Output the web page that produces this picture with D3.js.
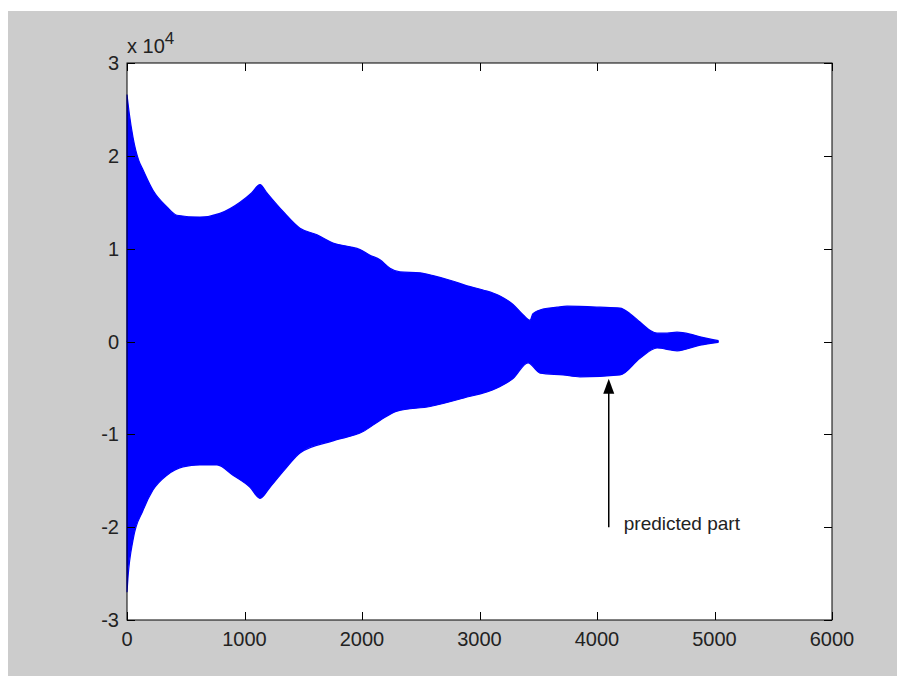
<!DOCTYPE html>
<html>
<head>
<meta charset="utf-8">
<script src="https://cdn.jsdelivr.net/npm/d3@7"></script>
<style>
  html, body { margin: 0; padding: 0; background: #ffffff; }
  svg text { font-family: "Liberation Sans", Arial, Helvetica, sans-serif; }
</style>
</head>
<body>
<svg id="chart" width="905" height="686"></svg>
<script>
// Upper envelope of the signal (sample index, value in units of 1e4)
const upperX = [0, 20, 51, 100, 136, 221, 340, 425, 621, 791, 962, 1060, 1132, 1191, 1328, 1472, 1617, 1753, 1898, 1983, 2068, 2153, 2238, 2323, 2494, 2604, 2749, 2894, 3030, 3174, 3285, 3370, 3430, 3455, 3540, 3660, 3745, 4026, 4196, 4281, 4366, 4451, 4511, 4596, 4681, 4791, 4877, 4987, 5030];
const upperY = [2.66, 2.45, 2.2, 1.95, 1.85, 1.63, 1.45, 1.36, 1.34, 1.38, 1.50, 1.60, 1.69, 1.60, 1.40, 1.22, 1.15, 1.06, 1.02, 0.99, 0.93, 0.88, 0.79, 0.75, 0.74, 0.71, 0.66, 0.60, 0.555, 0.49, 0.40, 0.29, 0.23, 0.30, 0.35, 0.37, 0.38, 0.37, 0.36, 0.30, 0.21, 0.12, 0.09, 0.09, 0.10, 0.08, 0.05, 0.02, 0.01];
// Lower envelope
const lowerX = [0, 8, 51, 136, 221, 340, 476, 621, 766, 902, 1047, 1132, 1217, 1362, 1472, 1753, 2009, 2153, 2298, 2579, 2860, 3149, 3285, 3413, 3515, 3711, 3855, 4196, 4366, 4511, 4681, 4877, 5030];
const lowerY = [-2.70, -2.55, -2.14, -1.82, -1.60, -1.44, -1.35, -1.33, -1.33, -1.44, -1.57, -1.69, -1.57, -1.35, -1.20, -1.07, -0.97, -0.85, -0.75, -0.70, -0.61, -0.50, -0.40, -0.23, -0.34, -0.36, -0.38, -0.36, -0.18, -0.07, -0.10, -0.04, -0.01];

const xTicks = [0, 1000, 2000, 3000, 4000, 5000, 6000];
const yTicks = [-3, -2, -1, 0, 1, 2, 3];
const annotationText = "predicted part";
const arrowX = 4100;      // data x of arrow
const arrowTip = -0.4;    // data y of arrow tip
const arrowTail = -2.0;   // data y of arrow tail

const svg = d3.select("#chart");
const W = 905, H = 686;
const L = 127, R = 832, T = 63, B = 620;

// figure background
svg.append("rect").attr("x", 0).attr("y", 0).attr("width", W).attr("height", H).attr("fill", "#ffffff");
svg.append("rect").attr("x", 8).attr("y", 11).attr("width", 889).attr("height", 665).attr("fill", "#cccccc");
svg.append("rect").attr("x", L).attr("y", T).attr("width", R - L).attr("height", B - T).attr("fill", "#ffffff");

const x = d3.scaleLinear().domain([0, 6000]).range([L, R]);
const y = d3.scaleLinear().domain([-3, 3]).range([B, T]);

// upper and lower envelope traced as one closed outline
const outline = upperX.map((v, i) => [v, upperY[i]]);
const lowerPts = lowerX.map((v, i) => [v, lowerY[i]]).reverse();

const lineU = d3.line().x(d => x(d[0])).y(d => y(d[1])).curve(d3.curveMonotoneX);
const lineLo = d3.line().x(d => x(d[0])).y(d => y(d[1])).curve(d3.curveMonotoneX);
const pathU = lineU(outline);
const pathL = lineLo(lowerX.map((v, i) => [v, lowerY[i]]));
// Build area with d3.area over merged grid for clean fill
const allX = Array.from(new Set(upperX.concat(lowerX))).sort((a, b) => a - b);
const up = d3.scaleLinear().domain(upperX).range(upperY);
const lo = d3.scaleLinear().domain(lowerX).range(lowerY);
const env = allX.map(v => ({ x: v, u: up(v), l: lo(v) }));

const areaU = d3.area().x(d => x(d[0])).y0(y(0)).y1(d => y(d[1])).curve(d3.curveMonotoneX);
const areaL = d3.area().x(d => x(d[0])).y0(y(0)).y1(d => y(d[1])).curve(d3.curveMonotoneX);

svg.append("path").datum(outline)
  .attr("d", areaU)
  .attr("fill", "#0000ff").attr("stroke", "#0000ff").attr("stroke-width", 1.2);
svg.append("path").datum(lowerX.map((v, i) => [v, lowerY[i]]))
  .attr("d", areaL)
  .attr("fill", "#0000ff").attr("stroke", "#0000ff").attr("stroke-width", 1.2);

// axes box
const axisColor = "#000000";
const g = svg.append("g");
g.append("rect").attr("x", L).attr("y", T).attr("width", R - L).attr("height", B - T)
  .attr("fill", "none").attr("stroke", axisColor).attr("stroke-width", 1);

// ticks (inside)
const tl = 8;
xTicks.forEach(t => {
  const px = Math.round(x(t)) + 0.5;
  g.append("line").attr("x1", px).attr("x2", px).attr("y1", B).attr("y2", B - tl).attr("stroke", axisColor);
  g.append("line").attr("x1", px).attr("x2", px).attr("y1", T).attr("y2", T + tl).attr("stroke", axisColor);
  g.append("text").attr("x", x(t)).attr("y", B + 26)
    .attr("text-anchor", "middle").attr("font-size", 20).attr("fill", "#222").text(t);
});
yTicks.forEach(t => {
  const py = Math.round(y(t)) + 0.5;
  g.append("line").attr("x1", L).attr("x2", L + tl).attr("y1", py).attr("y2", py).attr("stroke", axisColor);
  g.append("line").attr("x1", R).attr("x2", R - tl).attr("y1", py).attr("y2", py).attr("stroke", axisColor);
  g.append("text").attr("x", L - 8).attr("y", y(t) + 7)
    .attr("text-anchor", "end").attr("font-size", 20).attr("fill", "#222").text(t);
});

// exponent label
const ex = g.append("text").attr("x", 127).attr("y", 53).attr("font-size", 20).attr("fill", "#222");
ex.append("tspan").text("x 10");
ex.append("tspan").attr("dy", -9).attr("font-size", 17).text("4");

// annotation arrow
const ax = x(arrowX);
const tipY = y(arrowTip), tailY = y(arrowTail);
svg.append("line").attr("x1", ax).attr("x2", ax).attr("y1", tipY + 14).attr("y2", tailY)
  .attr("stroke", "#000").attr("stroke-width", 1.5);
svg.append("path")
  .attr("d", `M${ax},${tipY} L${ax - 5.5},${tipY + 15} L${ax + 5.5},${tipY + 15} Z`)
  .attr("fill", "#000");
svg.append("text").attr("x", ax + 15).attr("y", tailY + 3)
  .attr("font-size", 19).attr("fill", "#222").text(annotationText);
</script>
</body>
</html>
